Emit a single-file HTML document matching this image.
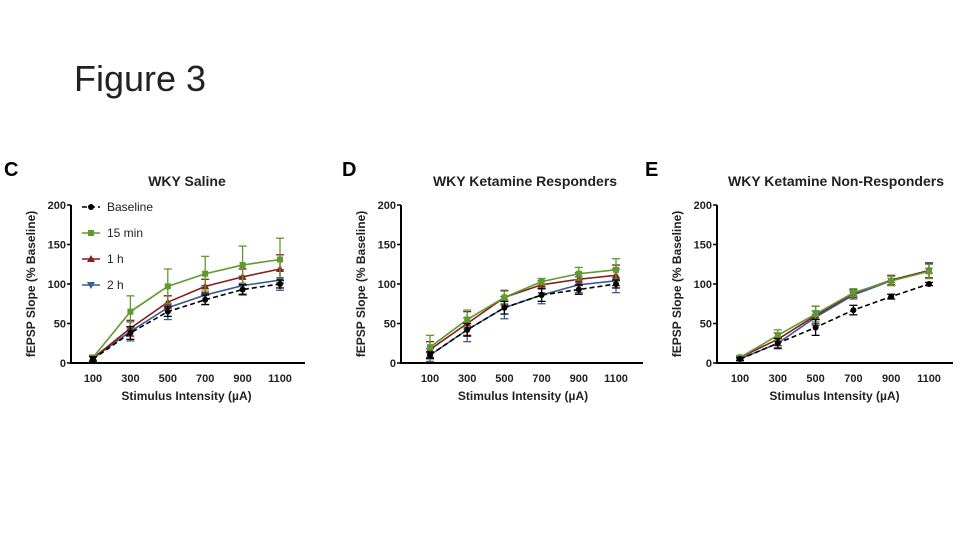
<!DOCTYPE html>
<html><head><meta charset="utf-8"><style>
body{margin:0;width:960px;height:540px;background:#fff;overflow:hidden;font-family:"Liberation Sans",sans-serif}
</style></head><body>
<div style="position:absolute;left:74px;top:58px;font-size:36px;font-family:'Liberation Sans',sans-serif;color:#222">Figure 3</div>
<svg id="svg" width="960" height="540" style="position:absolute;left:0;top:0"></svg>
<script>
const categories=[100,300,500,700,900,1100];
const yTicks=[0,50,100,150,200];
const seriesNames=["Baseline","15 min","1 h","2 h"];
const cBase=[5,38,65,80,93,100], cBaseErr=[3,8,6,6,6,5];
const c15=[7,65,97,113,124,131], c15Err=[3,20,22,22,24,27];
const c1h=[6,44,77,97,109,119], c1hErr=[3,10,8,9,10,18];
const c2h=[6,40,70,86,98,105], c2hErr=[3,12,15,12,12,13];
const dBase=[10,42,70,86,93,100], dBaseErr=[4,8,8,8,6,5];
const d15=[20,55,83,103,113,118], d15Err=[15,12,8,4,8,14];
const d1h=[17,50,83,99,106,111], d1hErr=[10,15,9,5,8,13];
const d2h=[10,42,70,86,99,104], d2hErr=[8,15,14,11,10,15];
const eBase=[5,25,45,67,84,100], eBaseErr=[2,6,10,6,3,2];
const e15=[7,35,62,89,104,116], e15Err=[2,7,10,5,6,9];
const e1h=[7,30,60,88,105,117], e1hErr=[2,8,12,5,6,9];
const e2h=[5,25,58,86,104,117], e2hErr=[2,7,8,5,6,10];
const colors=["#000","#5e9a2c","#8a1c1c","#3b5c98"];
const NS="http://www.w3.org/2000/svg";
const svg=document.getElementById('svg');
function mk(t,a,p){const e=document.createElementNS(NS,t);for(const k in a)e.setAttribute(k,a[k]);(p||svg).appendChild(e);return e;}
function marker(s,x,y,col,p){
  if(s==0)return mk('circle',{cx:x,cy:y,r:3,fill:col},p);
  if(s==1)return mk('rect',{x:x-3,y:y-3,width:6,height:6,fill:col},p);
  if(s==2)return mk('polygon',{points:`${x},${y-4} ${x-4},${y+3} ${x+4},${y+3}`,fill:col},p);
  return mk('polygon',{points:`${x},${y+4} ${x-4},${y-3} ${x+4},${y-3}`,fill:col},p);
}
function panel(o){
  const g=mk('g',{});
  
  
  const X=v=>o.x0+(categories.indexOf(v))*(o.x1-o.x0)/5;
  const Y=v=>o.y0-v*(o.y0-o.y200)/200;
  let t=mk('text',{x:o.lx,y:176,'font-size':20,'font-weight':'bold'},g);t.textContent=o.letter;
  
  t=mk('text',{x:o.tcx,y:186,'font-size':14,'font-weight':'bold','text-anchor':'middle',fill:'#222'},g);t.textContent=o.title;
  
  mk('line',{x1:o.ax,y1:Y(200),x2:o.ax,y2:o.y0+1,stroke:'#000','stroke-width':2},g);
  mk('line',{x1:o.ax,y1:o.y0,x2:o.xend,y2:o.y0,stroke:'#000','stroke-width':2},g);
  yTicks.forEach(v=>{mk('line',{x1:o.ax-4,y1:Y(v),x2:o.ax,y2:Y(v),stroke:'#000','stroke-width':1.5},g);
    const tt=mk('text',{x:o.ax-5,y:Y(v)+4,'font-size':11,'font-weight':'bold','text-anchor':'end',fill:'#222'},g);tt.textContent=v;
    });
  categories.forEach(c=>{const tt=mk('text',{x:X(c),y:o.y0+19,'font-size':11,'font-weight':'bold','text-anchor':'middle',fill:'#222'},g);tt.textContent=c;
    });
  t=mk('text',{x:(o.x0+o.x1)/2,y:o.y0+37,'font-size':12,'font-weight':'bold','text-anchor':'middle',fill:'#222'},g);t.textContent='Stimulus Intensity (\u00b5A)';
  
  t=mk('text',{x:0,y:0,'font-size':12,'font-weight':'bold','text-anchor':'middle',fill:'#222',transform:`translate(${o.ax-36},${(o.y0+Y(200))/2}) rotate(-90)`},g);t.textContent='fEPSP Slope (% Baseline)';
  
  for(let s=3;s>=0;s--){
    const vals=o.data[s][0],errs=o.data[s][1],col=colors[s];
    const sg=mk('g',{},g);
    
    
    categories.forEach((c,i)=>{const x=X(c);
      mk('line',{x1:x,y1:Y(vals[i]-errs[i]),x2:x,y2:Y(vals[i]+errs[i]),stroke:col,'stroke-width':1.3},sg);
      [vals[i]-errs[i],vals[i]+errs[i]].forEach(v=>mk('line',{x1:x-4,y1:Y(v),x2:x+4,y2:Y(v),stroke:col,'stroke-width':1.3},sg));});
    mk('polyline',{points:categories.map((c,i)=>X(c)+','+Y(vals[i])).join(' '),fill:'none',stroke:col,'stroke-width':1.6,'stroke-dasharray':s==0?'5,3':'none'},sg);
    categories.forEach((c,i)=>marker(s,X(c),Y(vals[i]),col,sg));
  }
  if(o.legend){seriesNames.forEach((n,i)=>{const y=207+i*26;
    const lg=mk('g',{},g);
    
    mk('line',{x1:82,y1:y,x2:100,y2:y,stroke:colors[i],'stroke-width':1.6,'stroke-dasharray':i==0?'5,3':'none'},lg);
    marker(i,91,y,colors[i],lg);
    const tt=mk('text',{x:107,y:y+4,'font-size':12,fill:'#222'},lg);tt.textContent=n;});}
}
panel({name:'panel-c-wky-saline',letter:'C',lx:4,title:'WKY Saline',tcx:187,ax:71,x0:93,x1:280,xend:305,y0:363,y200:205,legend:true,
  data:[[cBase,cBaseErr],[c15,c15Err],[c1h,c1hErr],[c2h,c2hErr]]});
panel({name:'panel-d-ketamine-responders',letter:'D',lx:342,title:'WKY Ketamine Responders',tcx:525,ax:401,x0:430,x1:616,xend:643,y0:363,y200:205,
  data:[[dBase,dBaseErr],[d15,d15Err],[d1h,d1hErr],[d2h,d2hErr]]});
panel({name:'panel-e-ketamine-non-responders',letter:'E',lx:645,title:'WKY Ketamine Non-Responders',tcx:836,ax:717,x0:740,x1:929,xend:953,y0:363,y200:205,
  data:[[eBase,eBaseErr],[e15,e15Err],[e1h,e1hErr],[e2h,e2hErr]]});
</script>
</body></html>
